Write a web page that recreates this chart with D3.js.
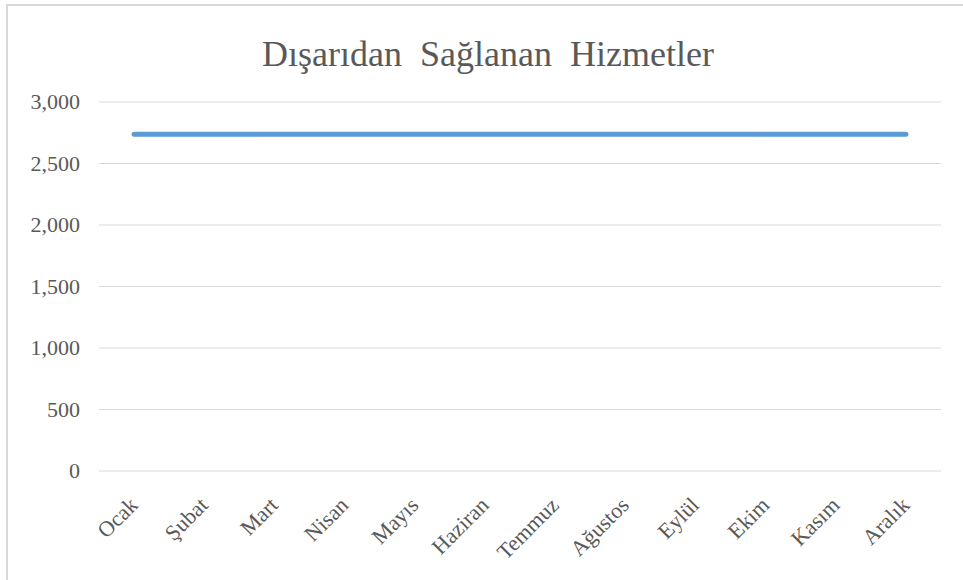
<!DOCTYPE html>
<html><head><meta charset="utf-8">
<script src="https://cdn.jsdelivr.net/npm/d3@7"></script>
<style>html,body{margin:0;padding:0;background:#fff;overflow:hidden}</style>
</head><body>
<svg id="c" width="963" height="580"></svg>
<script>
const categories = ["Ocak","Şubat","Mart","Nisan","Mayıs","Haziran","Temmuz","Ağustos","Eylül","Ekim","Kasım","Aralık"];
const values = [2733,2733,2733,2733,2733,2733,2733,2733,2733,2733,2733,2733];
const yTicks = [0,500,1000,1500,2000,2500,3000];
const title = "Dışarıdan Sağlanan Hizmetler";

(function(){
const svg = d3.select("#c");
const font = "'Liberation Serif','Times New Roman',serif";
svg.append("rect").attr("x",7).attr("y",5).attr("width",1000).attr("height",1000)
  .attr("fill","#fff").attr("stroke","#d9d9d9").attr("stroke-width",2);

const mLeft = 99, mRight = 941, mTop = 101.5, mBottom = 470.5;
const x = d3.scaleBand().domain(categories).range([mLeft,mRight]);
const y = d3.scaleLinear().domain([0,3000]).range([mBottom,mTop]);

svg.append("text").attr("x",488).attr("y",66).attr("text-anchor","middle")
  .attr("font-family",font).attr("font-size",36).attr("word-spacing","9px")
  .attr("fill","#595959").text(title);

const yAxis = svg.append("g").attr("transform",`translate(${mLeft},0)`)
  .call(d3.axisLeft(y).tickValues(yTicks).tickSize(-(mRight-mLeft)).tickPadding(19).tickFormat(d3.format(",")));
yAxis.select(".domain").remove();
yAxis.selectAll(".tick line").attr("stroke","#d9d9d9").attr("stroke-width",1);
yAxis.selectAll(".tick text").attr("font-family",font).attr("font-size",22).attr("fill","#595959");

const xAxis = svg.append("g").attr("transform",`translate(0,${mBottom})`)
  .call(d3.axisBottom(x).tickSize(0).tickPadding(0));
xAxis.select(".domain").remove();
xAxis.selectAll(".tick text")
  .attr("font-family",font).attr("font-size",22).attr("fill","#595959")
  .attr("text-anchor","end").attr("dy",null).attr("y",0)
  .attr("transform","translate(5,36) rotate(-45)");

const line = d3.line().x((d,i)=>x(categories[i])+x.bandwidth()/2).y(d=>y(d));
svg.append("path").datum(values).attr("d",line).attr("fill","none")
  .attr("stroke","#5b9bd5").attr("stroke-width",5).attr("stroke-linecap","round");
})();
</script>
</body></html>
